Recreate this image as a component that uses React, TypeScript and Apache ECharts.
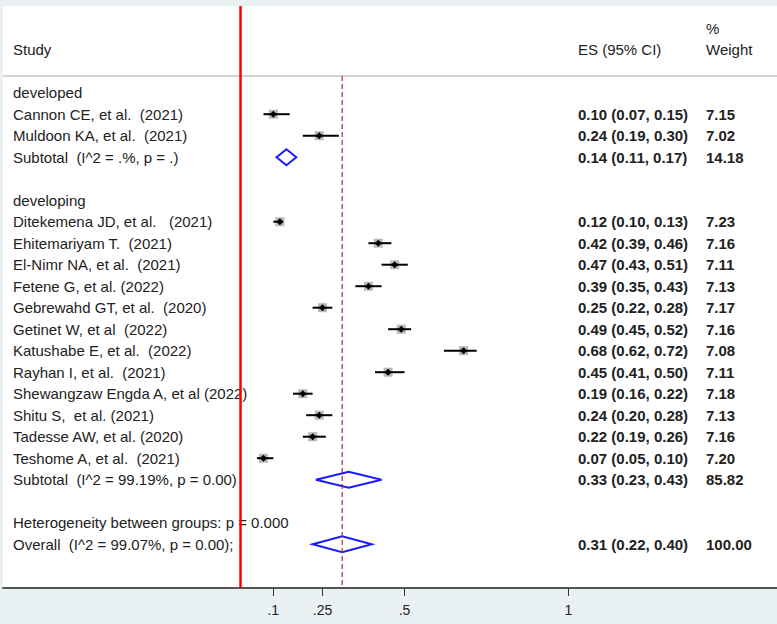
import React, { useEffect, useRef } from "react";
import * as echarts from "echarts";

// ---- data ----
const groupNames = ["developed", "developing"];

const developedStudies = ["Cannon CE, et al.  (2021)", "Muldoon KA, et al.  (2021)"];
const developedES = [0.1, 0.24];
const developedLo = [0.07, 0.19];
const developedHi = [0.15, 0.3];
const developedWeight = [7.15, 7.02];

const developingStudies = [
  "Ditekemena JD, et al.   (2021)",
  "Ehitemariyam T.  (2021)",
  "El-Nimr NA, et al.  (2021)",
  "Fetene G, et al. (2022)",
  "Gebrewahd GT, et al.  (2020)",
  "Getinet W, et al  (2022)",
  "Katushabe E, et al.  (2022)",
  "Rayhan I, et al.  (2021)",
  "Shewangzaw Engda A, et al (2022)",
  "Shitu S,  et al. (2021)",
  "Tadesse AW, et al. (2020)",
  "Teshome A, et al.  (2021)",
];
const developingES = [0.12, 0.42, 0.47, 0.39, 0.25, 0.49, 0.68, 0.45, 0.19, 0.24, 0.22, 0.07];
const developingLo = [0.1, 0.39, 0.43, 0.35, 0.22, 0.45, 0.62, 0.41, 0.16, 0.2, 0.19, 0.05];
const developingHi = [0.13, 0.46, 0.51, 0.43, 0.28, 0.52, 0.72, 0.5, 0.22, 0.28, 0.26, 0.1];
const developingWeight = [7.23, 7.16, 7.11, 7.13, 7.17, 7.16, 7.08, 7.11, 7.18, 7.13, 7.16, 7.2];

const subtotalLabels = ["Subtotal  (I^2 = .%, p = .)", "Subtotal  (I^2 = 99.19%, p = 0.00)"];
const subtotalES = [0.14, 0.33];
const subtotalLo = [0.11, 0.23];
const subtotalHi = [0.17, 0.43];
const subtotalWeight = [14.18, 85.82];

const heterogeneityText = "Heterogeneity between groups: p = 0.000";
const overallLabel = "Overall  (I^2 = 99.07%, p = 0.00);";
const overallES = 0.31;
const overallLo = 0.22;
const overallHi = 0.4;
const overallWeight = 100.0;

const tickValues = [0.1, 0.25, 0.5, 1];
const tickLabels = [".1", ".25", ".5", "1"];

// ---- layout constants ----
const FONT = "'Liberation Sans', Arial, sans-serif";
const TEXT = "#222222";
const X_MIN = (3 - 240.5) / 328;
const X_MAX = (777 - 240.5) / 328;
const Y_MIN = -(92.7 - 6) / 21.5;
const Y_MAX = Y_MIN + 582 / 21.5;
const HEADER_LINE_ROW = (76 - 92.7) / 21.5;

type Row = {
  row: number;
  kind: "label" | "study" | "diamond";
  label: string;
  es?: number;
  lo?: number;
  hi?: number;
  weight?: number;
};

function buildRows(): Row[] {
  const rows: Row[] = [];
  let r = 0;
  const groups = [
    [developedStudies, developedES, developedLo, developedHi, developedWeight],
    [developingStudies, developingES, developingLo, developingHi, developingWeight],
  ] as [string[], number[], number[], number[], number[]][];
  groups.forEach(([names, es, lo, hi, w], g) => {
    rows.push({ row: r++, kind: "label", label: groupNames[g] });
    names.forEach((n, i) => {
      rows.push({ row: r++, kind: "study", label: n, es: es[i], lo: lo[i], hi: hi[i], weight: w[i] });
    });
    rows.push({
      row: r++,
      kind: "diamond",
      label: subtotalLabels[g],
      es: subtotalES[g],
      lo: subtotalLo[g],
      hi: subtotalHi[g],
      weight: subtotalWeight[g],
    });
    r++;
  });
  rows.push({ row: r++, kind: "label", label: heterogeneityText });
  rows.push({
    row: r++,
    kind: "diamond",
    label: overallLabel,
    es: overallES,
    lo: overallLo,
    hi: overallHi,
    weight: overallWeight,
  });
  return rows;
}

const rows = buildRows();

function txt(x: number, y: number, text: string, bold = false) {
  return {
    type: "text",
    x,
    y,
    style: {
      text,
      fill: TEXT,
      fontSize: 15,
      fontFamily: FONT,
      fontWeight: bold ? "bold" : "normal",
      align: "left",
      verticalAlign: "middle",
    },
  };
}

export default function App() {
  const ref = useRef<HTMLDivElement>(null);
  useEffect(() => {
    const chart = echarts.init(ref.current!, null, { renderer: "svg" });
    const option: any = {
      animation: false,
      backgroundColor: "#e9f1f3",
      grid: {
        left: 3,
        right: 0,
        top: 6,
        bottom: 36,
        show: true,
        backgroundColor: "#ffffff",
        borderWidth: 0,
      },
      xAxis: {
        type: "value",
        min: X_MIN,
        max: X_MAX,
        position: "bottom",
        splitLine: { show: false },
        axisLine: { show: true, onZero: false, lineStyle: { color: "#555555", width: 2 } },
        axisTick: {
          show: true,
          customValues: tickValues,
          length: 8,
          lineStyle: { color: "#333333", width: 1 },
        },
        axisLabel: {
          customValues: tickValues,
          margin: 15,
          fontSize: 14,
          fontFamily: FONT,
          color: TEXT,
          formatter: (v: number) => {
            const i = tickValues.findIndex((t) => Math.abs(t - v) < 1e-9);
            return i >= 0 ? tickLabels[i] : "";
          },
        },
      },
      yAxis: {
        type: "value",
        inverse: true,
        min: Y_MIN,
        max: Y_MAX,
        show: false,
      },
      series: [
        {
          type: "custom",
          clip: false,
          z: 2,
          data: [[0]],
          renderItem: (params: any, api: any) => {
            const top = api.coord([0, Y_MIN]);
            const bottom = api.coord([0, Y_MAX]);
            const hl0 = api.coord([X_MIN, HEADER_LINE_ROW]);
            const hl1 = api.coord([X_MAX, HEADER_LINE_ROW]);
            const d0 = api.coord([overallES, HEADER_LINE_ROW]);
            const d1 = api.coord([overallES, Y_MAX]);
            const hy = api.coord([0, -2])[1];
            const py = api.coord([0, -3])[1];
            return {
              type: "group",
              children: [
                {
                  type: "line",
                  shape: { x1: hl0[0], y1: hl0[1], x2: hl1[0], y2: hl1[1] },
                  style: { stroke: "#c4c4c4", lineWidth: 1.5 },
                },
                {
                  type: "line",
                  shape: { x1: d0[0], y1: d0[1], x2: d1[0], y2: d1[1] },
                  style: { stroke: "#b0283a", lineWidth: 1.2, lineDash: [5, 3] },
                },
                txt(13, hy, "Study"),
                txt(578, hy, "ES (95% CI)"),
                txt(706, py, "%"),
                txt(706, hy, "Weight"),
                {
                  type: "line",
                  z2: 100,
                  shape: { x1: top[0], y1: top[1], x2: bottom[0], y2: bottom[1] },
                  style: { stroke: "#ff0000", lineWidth: 2.5 },
                },
              ],
            };
          },
        },
        {
          type: "custom",
          clip: false,
          z: 1,
          data: rows.map((r) => [r.es ?? 0, r.row]),
          renderItem: (params: any, api: any) => {
            const r = rows[params.dataIndex];
            const y = api.coord([0, r.row])[1];
            const children: any[] = [txt(13, y, r.label)];
            if (r.kind !== "label") {
              const xc = api.coord([r.es, r.row])[0];
              const xl = api.coord([r.lo, r.row])[0];
              const xr = api.coord([r.hi, r.row])[0];
              if (r.kind === "study") {
                children.push(
                  {
                    type: "rect",
                    shape: { x: xc - 4.5, y: y - 4.5, width: 9, height: 9 },
                    style: { fill: "#b8b8b8" },
                  },
                  {
                    type: "line",
                    shape: { x1: xl, y1: y, x2: xr, y2: y },
                    style: { stroke: "#000000", lineWidth: 2 },
                  },
                  {
                    type: "polygon",
                    shape: {
                      points: [
                        [xc - 3.5, y],
                        [xc, y - 3.5],
                        [xc + 3.5, y],
                        [xc, y + 3.5],
                      ],
                    },
                    style: { fill: "#000000" },
                  }
                );
              } else {
                children.push({
                  type: "polygon",
                  shape: {
                    points: [
                      [xl, y],
                      [xc, y - 8],
                      [xr, y],
                      [xc, y + 8],
                    ],
                  },
                  style: { fill: "none", stroke: "#1a1aff", lineWidth: 2 },
                });
              }
              children.push(
                txt(578, y, `${r.es!.toFixed(2)} (${r.lo!.toFixed(2)}, ${r.hi!.toFixed(2)})`, true),
                txt(706, y, r.weight!.toFixed(2), true)
              );
            }
            return { type: "group", children };
          },
        },
      ],
    };
    chart.setOption(option);
    return () => chart.dispose();
  }, []);
  return (
    <div
      ref={ref}
      style={{ position: "fixed", left: 0, top: 0, width: 777, height: 624 }}
    />
  );
}
